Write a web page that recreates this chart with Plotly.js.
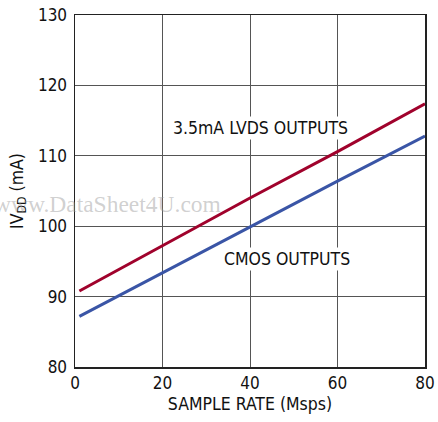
<!DOCTYPE html>
<html><head><meta charset="utf-8">
<script src="https://cdn.plot.ly/plotly-3.0.1.min.js"></script>
<style>html,body{margin:0;padding:0;background:#fff}#c{width:438px;height:422px}</style>
</head><body><div id="c"></div>
<script>
const sampleRate = [1, 20, 40, 60, 80];
const lvdsIdd = [90.8, 97.2, 104.0, 110.6, 117.4];
const cmosIdd = [87.2, 93.4, 99.9, 106.4, 112.8];
const xTicks = [0, 20, 40, 60, 80];
const yTicks = [80, 90, 100, 110, 120, 130];

const FONT = '"Liberation Sans Narrow", "DejaVu Sans Condensed", Arial, sans-serif';
const data = [
  {x: sampleRate, y: lvdsIdd, mode: 'lines', line: {color: '#a0022c', width: 3}, hoverinfo: 'none'},
  {x: sampleRate, y: cmosIdd, mode: 'lines', line: {color: '#3a55a6', width: 3}, hoverinfo: 'none'}
];
const axisCommon = {
  showgrid: true, gridcolor: '#555', gridwidth: 1,
  showline: true, linecolor: '#222', linewidth: 1.5, mirror: true,
  ticks: '', zeroline: false, tickfont: {family: FONT, size: 17, color: '#111'}
};
const layout = {
  width: 438, height: 422,
  margin: {l: 75, r: 13, t: 15, b: 55},
  paper_bgcolor: '#fff', plot_bgcolor: '#fff',
  showlegend: false,
  xaxis: Object.assign({}, axisCommon, {range: [0, 80], tickvals: xTicks, ticktext: xTicks.map(String),
    title: {text: 'SAMPLE RATE (Msps)', font: {family: FONT, size: 17.5, color: '#111'}, standoff: 6}}),
  yaxis: Object.assign({}, axisCommon, {range: [80, 130], tickvals: yTicks, ticktext: yTicks.map(String),
    ticklabelstandoff: 3,
    title: {text: 'IV<sub>DD</sub> (mA)', font: {family: FONT, size: 17.5, color: '#111'}, standoff: 10}}),
  annotations: [
    {x: 42.3, y: 113.9, xref: 'x', yref: 'y', text: '3.5mA LVDS OUTPUTS', showarrow: false,
     font: {family: FONT, size: 17.5, color: '#111'}, bgcolor: '#fff', borderpad: 1},
    {x: 48.5, y: 95.3, xref: 'x', yref: 'y', text: 'CMOS OUTPUTS', showarrow: false,
     font: {family: FONT, size: 17.5, color: '#111'}, bgcolor: '#fff', borderpad: 1},
    {x: (107 - 75) / 350, y: (367 - 204) / 352, xref: 'paper', yref: 'paper', xanchor: 'center', yanchor: 'middle',
     text: 'www.DataSheet4U.com', showarrow: false,
     font: {family: '"Liberation Serif", serif', size: 23.5, color: 'rgba(150,150,150,0.45)'}}
  ]
};
Plotly.newPlot('c', data, layout, {staticPlot: true, displayModeBar: false});
</script></body></html>
